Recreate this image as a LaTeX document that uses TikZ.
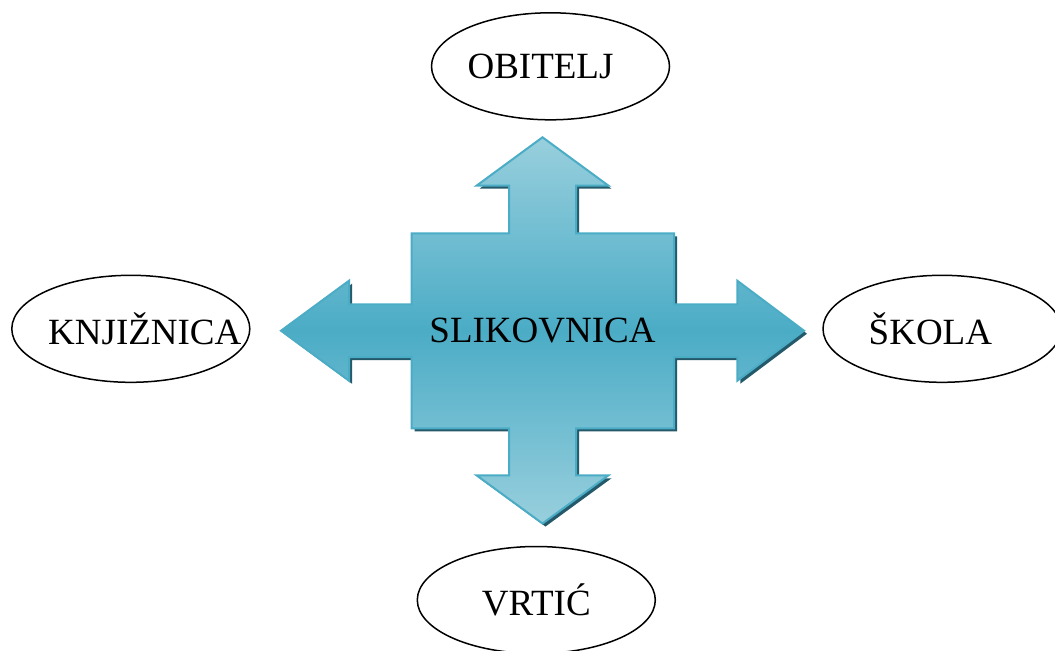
\documentclass[tikz,border=0pt]{standalone}
\usepackage{fontspec}
\setmainfont{Liberation Serif}
\usetikzlibrary{shapes.geometric,positioning}
\definecolor{aqua}{RGB}{75,172,198}
\definecolor{aqualight}{RGB}{152,207,221}
\definecolor{aquadark}{RGB}{36,89,106}
\tikzset{
  oval/.style={ellipse,draw,line width=0.75pt,minimum width=119pt,minimum height=53.5pt,inner sep=0pt},
  lbl/.style={font=\fontsize{18.5}{22}\selectfont}
}
% text inside an oval, moved sideways by #1
\newcommand{\ovaltext}[2]{\makebox[0pt]{\kern#1 #2\kern-#1}}
% outline of the four-way arrow
\def\crossshape{(542.5,137.3) -- (608.5,185.7) -- (576,185.7) -- (576,233.3) -- (674,233.3)
  -- (674,304.4) -- (737.3,304.4) -- (737.3,280.7) -- (804,330.7) -- (737.3,380.7) -- (737.3,357)
  -- (674,357) -- (674,428.3) -- (576,428.3) -- (576,475.3) -- (608.5,475.3) -- (542.5,523.5)
  -- (476.5,475.3) -- (509,475.3) -- (509,428.3) -- (411.7,428.3) -- (411.7,357) -- (349,357)
  -- (349,380.7) -- (281,330.7) -- (349,280.7) -- (349,304.4) -- (411.7,304.4) -- (411.7,233.3)
  -- (509,233.3) -- (509,185.7) -- (476.5,185.7) -- cycle}
\begin{document}
\begin{tikzpicture}[x=0.5pt,y=-0.5pt]
  \useasboundingbox (0,0) rectangle (1055,650);
  \fill[aquadark,shift={(3,3)}] \crossshape;
  \shade[top color=aqualight,bottom color=aqualight,middle color=aqua,draw=aqua,line width=1pt] \crossshape;
  \node[lbl] (slik) at (542.5,330.7) {SLIKOVNICA};
  \node[oval,lbl] (obit) at (550.5,66.3) {\ovaltext{-5pt}{OBITELJ}};
  \node[oval,lbl] (knji) at (130.8,328.8) {\ovaltext{7pt}{KNJIŽNICA}};
  \node[oval,lbl] (skol) at (942,328.8) {\ovaltext{-5.8pt}{ŠKOLA}};
  \node[oval,lbl] (vrti) at (536.3,600) {\ovaltext{0pt}{VRTIĆ}};
\end{tikzpicture}
\end{document}
